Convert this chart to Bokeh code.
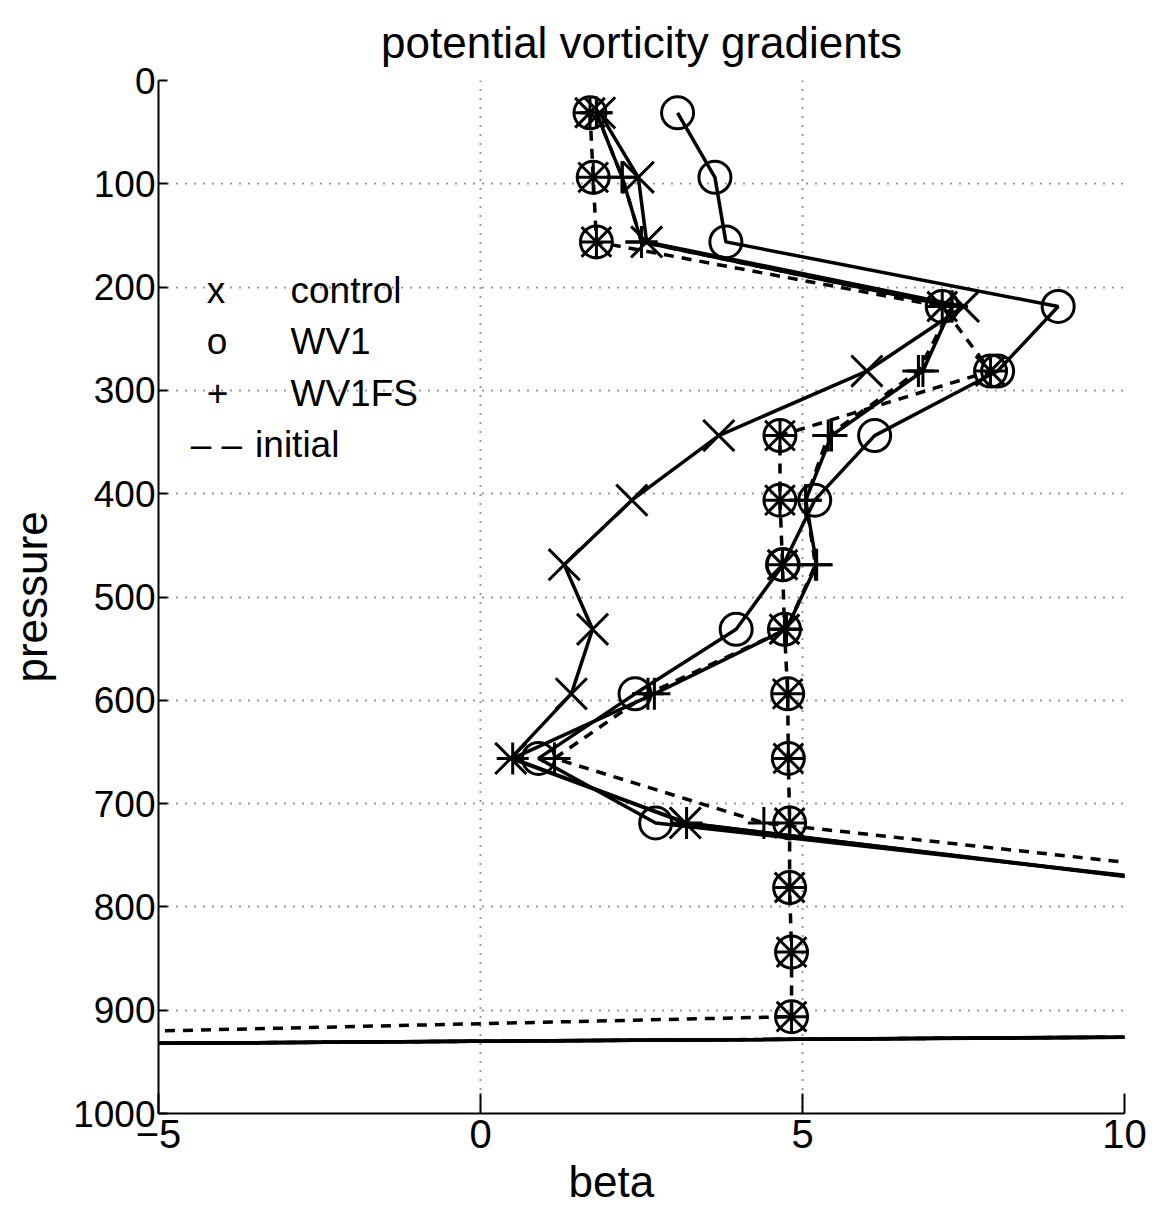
from bokeh.plotting import figure
from bokeh.models import Range1d, FixedTicker, Title
from bokeh.core.properties import value
from bokeh.embed import file_html
from bokeh.resources import INLINE

# model pressure levels (mb)
pressure = [31.25, 93.75, 156.25, 218.75, 281.25, 343.75, 406.25, 468.75,
            531.25, 593.75, 656.25, 718.75, 781.25, 843.75, 906.25, 968.75]

# beta profiles (PV gradient), one value per level
control = [1.85, 2.45, 2.58, 7.50, 6.00, 3.70, 2.35, 1.30,
           1.74, 1.41, 0.47, 3.18, 11.5, 25.0, 60.0, -97.5]
wv1 = [3.06, 3.64, 3.81, 8.97, 8.03, 6.12, 5.19, 4.70,
       3.97, 2.40, 0.90, 2.72, 11.7, 25.0, 61.0, -99.0]
wv1fs = [1.80, 2.20, 2.50, 7.32, 6.87, 5.45, 5.05, 5.22,
         4.75, 2.70, 0.50, 3.20, 11.4, 25.0, 59.0, -96.0]
wv1fs_alt = [1.80, 2.20, 2.50, 7.32, 6.80, 5.40, 5.05, 5.20,
             4.75, 2.60, 1.15, 4.40, 13.6, 25.0, 60.0, -97.5]
initial = [1.70, 1.75, 1.80, 7.17, 7.92, 4.65, 4.65, 4.69,
           4.72, 4.77, 4.78, 4.80, 4.80, 4.83, 4.83, -39.6]

x_ticks = [-5, 0, 5, 10]
y_ticks = [0, 100, 200, 300, 400, 500, 600, 700, 800, 900, 1000]

legend_symbols = ["x", "o", "+", "\u2013 \u2013"]
legend_names = ["control", "WV1", "WV1FS", "initial"]

FONT = "Liberation Sans"

p = figure(width=1156, height=1214, output_backend="svg", toolbar_location=None,
           x_range=Range1d(-5, 10), y_range=Range1d(1000, 0),
           min_border_left=158, min_border_right=32, min_border_top=80,
           min_border_bottom=101)

p.title.text = "potential vorticity gradients"
p.title.align = "center"
p.title.text_font = FONT
p.title.text_font_size = "44px"
p.title.text_font_style = "normal"
p.title.text_color = "black"
p.title.standoff = 24
p.title.vertical_align = "top"

p.outline_line_color = None
p.background_fill_color = "white"

for ax in (p.xaxis[0], p.yaxis[0]):
    ax.axis_line_width = 2
    ax.axis_line_color = "black"
    ax.major_tick_line_color = "black"
    ax.major_tick_line_width = 2
    ax.major_tick_out = 0
    ax.minor_tick_line_color = None
    ax.major_label_text_font = FONT
    ax.major_label_text_color = "black"
    ax.axis_label_text_font = FONT
    ax.axis_label_text_font_size = "44px"
    ax.axis_label_text_font_style = "normal"
    ax.axis_label_text_color = "black"

p.xaxis.ticker = FixedTicker(ticks=x_ticks)
p.yaxis.ticker = FixedTicker(ticks=y_ticks)
p.xaxis.major_label_overrides = {-5: "\u22125"}
p.xaxis.major_label_text_font_size = "40px"
p.yaxis.major_label_text_font_size = "37px"
p.xaxis.major_tick_in = 20
p.yaxis.major_tick_in = 9
p.yaxis.axis_label = "pressure"
p.xaxis.major_label_standoff = 6
p.yaxis.major_label_standoff = 3
p.yaxis.axis_label_standoff = 14

# x label, left-aligned from the frame edge so it sits left of centre
p.add_layout(Title(text="beta", align="left", offset=410, standoff=8,
                   text_font=FONT, text_font_size="44px", text_font_style="normal",
                   text_color="black"), "below")

p.grid.grid_line_color = "black"
p.grid.grid_line_dash = "1 8"
p.grid.grid_line_width = 2
p.grid.grid_line_alpha = 0.8

LW = 3.5
MW = 3
MS = 32

# initial state: dashed, shared by all three runs
p.line(initial, pressure, line_color="black", line_width=LW, line_dash="10 8")
p.scatter(initial, pressure, marker="x", size=42, line_color="black", line_width=MW)
p.scatter(initial, pressure, marker="circle", size=MS, fill_color=None, line_color="black", line_width=MW)
p.scatter(initial, pressure, marker="cross", size=MS, line_color="black", line_width=MW)

# second WV1FS profile, dashed
p.line(wv1fs_alt, pressure, line_color="black", line_width=LW, line_dash="10 8")
p.scatter(wv1fs_alt, pressure, marker="cross", size=MS, line_color="black", line_width=MW)

# final states
p.line(control, pressure, line_color="black", line_width=LW)
p.scatter(control, pressure, marker="x", size=44, line_color="black", line_width=MW)
p.line(wv1, pressure, line_color="black", line_width=LW)
p.scatter(wv1, pressure, marker="circle", size=MS, fill_color=None, line_color="black", line_width=MW)
p.line(wv1fs, pressure, line_color="black", line_width=LW)
p.scatter(wv1fs, pressure, marker="cross", size=MS, line_color="black", line_width=MW)

# text legend in the upper left of the axes
sym_x = [-4.25, -4.25, -4.25, -4.5]
name_x = [-2.95, -2.95, -2.95, -3.5]
rows_p = [203, 253, 303, 352]
p.text(x=sym_x, y=rows_p, text=legend_symbols, text_font=value(FONT),
       text_font_size="37px", text_baseline="alphabetic", text_color="black")
p.text(x=name_x, y=rows_p, text=legend_names, text_font=value(FONT),
       text_font_size="37px", text_baseline="alphabetic", text_color="black")

open("out.html", "w").write(file_html(p, INLINE))
